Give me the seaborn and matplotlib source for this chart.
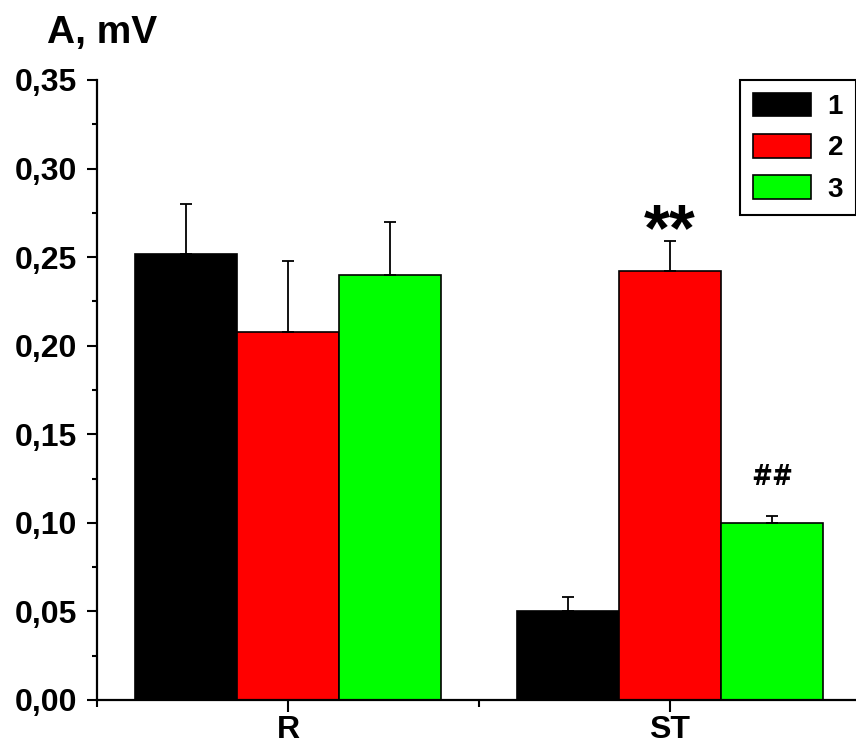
import matplotlib
matplotlib.use("Agg")
import matplotlib.pyplot as plt
import seaborn as sns
import pandas as pd
import numpy as np
from matplotlib.ticker import MultipleLocator, FuncFormatter, FixedLocator

# ---- data ----
categories = ["R", "ST"]
groups = ["1", "2", "3"]
values_1 = [0.252, 0.050]
values_2 = [0.208, 0.242]
values_3 = [0.240, 0.100]
err_1 = [0.028, 0.008]
err_2 = [0.040, 0.017]
err_3 = [0.030, 0.004]
colors = ["#000000", "#FF0000", "#00FF00"]
y_ticks = [0.00, 0.05, 0.10, 0.15, 0.20, 0.25, 0.30, 0.35]

sns.set_style("ticks")
plt.rcParams["font.family"] = ["Liberation Sans", "DejaVu Sans"]
plt.rcParams["font.weight"] = "bold"
plt.rcParams["text.color"] = "black"
plt.rcParams["axes.labelcolor"] = "black"
plt.rcParams["xtick.color"] = "black"
plt.rcParams["ytick.color"] = "black"
plt.rcParams["axes.edgecolor"] = "black"

df = pd.DataFrame({
    "cat": categories * 3,
    "grp": [g for g in groups for _ in categories],
    "val": values_1 + values_2 + values_3,
})
errs = [err_1, err_2, err_3]

fig = plt.figure(figsize=(8.56, 7.48), dpi=100)
W, H = 856, 748
ax = fig.add_axes([97 / W, (H - 700) / H, (861 - 97) / W, (700 - 80) / H])

sns.barplot(data=df, x="cat", y="val", hue="grp", order=categories,
            hue_order=groups, palette=dict(zip(groups, colors)),
            width=0.8, errorbar=None, edgecolor="black", linewidth=1.2,
            saturation=1, ax=ax)

for cont, e in zip(ax.containers, errs):
    for bar, ev in zip(cont, e):
        xc = bar.get_x() + bar.get_width() / 2
        h = bar.get_height()
        ax.errorbar(xc, h, yerr=[[0], [ev]], fmt="none", ecolor="black",
                    elinewidth=1.3, capsize=4, capthick=1.3, zorder=1)

ax.set_xlim(-0.5, 1.5)
ax.set_ylim(0, 0.35)
ax.set_xlabel("")
ax.set_ylabel("")

ax.yaxis.set_major_locator(FixedLocator(y_ticks))
ax.yaxis.set_minor_locator(MultipleLocator(0.025))
ax.yaxis.set_major_formatter(FuncFormatter(lambda v, p: f"{v:.2f}".replace(".", ",")))
ax.xaxis.set_minor_locator(FixedLocator([-0.5, 0.5, 1.5]))

for s in ["top", "right"]:
    ax.spines[s].set_visible(False)
for s in ["left", "bottom"]:
    ax.spines[s].set_linewidth(1.6)
    ax.spines[s].set_color("black")

ax.tick_params(axis="y", which="major", direction="out", length=7.2, width=1.5,
               labelsize=23, pad=7, colors="black")
ax.tick_params(axis="y", which="minor", direction="out", length=3.6, width=1.5,
               colors="black")
ax.tick_params(axis="x", which="major", direction="out", length=8.6, width=1.5,
               labelsize=23, pad=2, colors="black")
ax.tick_params(axis="x", which="minor", direction="out", length=5, width=1.5,
               colors="black")
for lab in ax.get_xticklabels() + ax.get_yticklabels():
    lab.set_fontweight("bold")
    lab.set_color("black")

handles, labels = ax.get_legend_handles_labels()
leg = ax.legend(handles, labels, loc="upper right", bbox_to_anchor=(0.993, 1.0),
                frameon=True, fancybox=False, shadow=False, framealpha=1,
                edgecolor="black", fontsize=20, handlelength=2.1,
                handleheight=0.94, labelspacing=0.5, handletextpad=0.6,
                borderpad=0.45, borderaxespad=0)
leg.get_frame().set_linewidth(1.5)
for t in leg.get_texts():
    t.set_fontweight("bold")
    t.set_color("black")

ax.text(1.0, 0.254, "**", ha="center", va="baseline", fontsize=48,
        fontweight="bold", color="black")
ax.text(1.267, 0.1213, "##", ha="center", va="baseline", fontsize=20,
        fontweight="bold", color="black",
        family=["DejaVu Sans"], fontstretch="condensed")

fig.text(47 / W, 1 - 43 / H, "A, mV", ha="left", va="baseline", fontsize=28,
         fontweight="bold", color="black")

fig.savefig("out.png", dpi=100)
